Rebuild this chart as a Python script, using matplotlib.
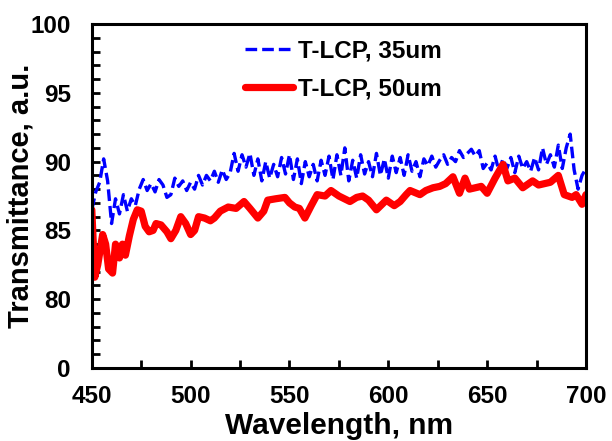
import numpy as np
import matplotlib.pyplot as plt
from matplotlib.ticker import MultipleLocator

# blue dashed series, sampled every 2 nm
wl_35 = np.arange(450, 701, 2)
t_35 = [86.5, 87.8, 88.5, 90.2, 88.6, 85.5, 87.3, 86.2, 87.6, 86.4,
        87.3, 86.8, 88.0, 88.7, 87.9, 88.4, 87.8, 88.7, 88.3, 87.4,
        87.6, 88.8, 88.2, 88.6, 87.9, 88.5, 88.0, 89.0, 88.3, 89.0,
        88.6, 89.3, 88.5, 89.4, 88.7, 89.2, 90.6, 89.3, 90.5, 89.6,
        90.6, 89.0, 90.2, 88.6, 90.0, 88.8, 89.8, 88.9, 90.3, 89.1,
        90.5, 88.7, 90.2, 88.4, 90.0, 88.9, 89.8, 88.6, 90.1, 89.0,
        90.4, 88.7, 90.5, 89.0, 91.0, 88.6, 90.1, 88.8, 90.5, 89.1,
        90.0, 88.9, 90.6, 89.0, 90.2, 88.8, 90.4, 89.2, 90.3, 89.0,
        90.5, 89.3, 90.0, 88.9, 90.2, 89.7, 90.4, 89.6, 90.1, 90.5,
        89.8, 90.3, 90.0, 90.8, 90.3, 90.6, 90.9, 90.4, 90.8, 89.5,
        89.9, 89.4, 90.4, 89.3, 90.2, 89.5, 90.3, 89.2, 90.4, 89.5,
        90.0, 89.3, 90.3, 89.4, 91.0, 89.8, 90.5, 89.6, 91.2, 89.5,
        91.0, 92.0, 89.4, 88.0, 89.0, 89.5]

# red solid series
wl_50 = [450, 451.5, 453, 455.5, 457, 458.5, 460.5, 462, 464, 465.5,
         467, 469, 471, 473, 475, 477, 479, 481, 482.5, 485,
         488, 490, 492.5, 495, 497.5, 500, 502, 504, 507, 510,
         512, 515, 519, 523, 527, 530, 534, 537, 539, 543,
         547.7, 550, 552.7, 555, 557.8, 561, 564, 568, 571, 575,
         580.6, 584, 587, 590, 594, 599, 603, 606, 609, 611,
         616, 619, 622.6, 626, 629, 632.7, 636, 638.8, 641, 644,
         647, 650, 654, 658, 660.5, 664, 668, 673, 676, 679,
         682, 686, 689, 693, 695, 698, 700]
t_50 = [86.5, 81.6, 82.5, 84.7, 84.0, 82.2, 81.9, 84.0, 83.0, 84.0,
        83.2, 84.6, 85.8, 86.5, 86.4, 85.3, 84.9, 85.0, 85.5, 85.4,
        84.9, 84.4, 85.0, 86.0, 85.5, 84.7, 85.0, 86.0, 85.9, 85.7,
        85.9, 86.4, 86.7, 86.6, 87.1, 86.6, 85.9, 86.4, 87.2, 87.3,
        87.4, 87.0, 86.7, 86.6, 85.9, 86.8, 87.6, 87.5, 87.9, 87.5,
        87.1, 87.4, 87.5, 87.2, 86.5, 87.2, 86.8, 87.1, 87.6, 87.9,
        87.6, 87.9, 88.1, 88.2, 88.4, 88.9, 87.7, 88.8, 88.0, 88.1,
        88.2, 87.7, 88.8, 89.8, 88.6, 88.8, 88.1, 88.6, 88.3, 88.4,
        88.5, 89.0, 87.6, 87.4, 87.6, 86.9, 87.6]

y_ticks = [75, 80, 85, 90, 95, 100]
y_ticklabels = ['0', '80', '85', '90', '95', '100']

plt.rcParams['font.family'] = ['Liberation Sans', 'DejaVu Sans']
plt.rcParams['font.weight'] = 'bold'

fig = plt.figure(figsize=(6.12, 4.41), dpi=100)
ax = fig.add_axes([0.150, 0.1655, 0.8075, 0.780])

ax.plot(wl_35, t_35, color='#0000ff', lw=2.4, dashes=(3.5, 1.5),
        label='T-LCP, 35um')
ax.plot(wl_50, t_50, color='#ff0000', lw=5.2, solid_capstyle='round',
        solid_joinstyle='round', label='T-LCP, 50um')

ax.set_xlim(450, 700)
ax.set_ylim(75, 100)
ax.set_xticks(np.arange(450, 701, 50))
ax.xaxis.set_minor_locator(MultipleLocator(25))
ax.set_yticks(y_ticks)
ax.set_yticklabels(y_ticklabels)
ax.yaxis.set_minor_locator(MultipleLocator(1))

ax.tick_params(which='both', direction='in', width=2, length=6,
               labelsize=17.5, top=False, right=False)
ax.tick_params(axis='x', which='both', pad=12)
ax.tick_params(axis='y', which='both', pad=15)
for s in ax.spines.values():
    s.set_linewidth(2.2)

ax.set_xlabel('Wavelength, nm', fontsize=21.5, fontweight='bold')
ax.xaxis.label.set_va('baseline')
ax.xaxis.set_label_coords(0.5, -0.192)
ax.set_ylabel('Transmittance, a.u.', fontsize=21, fontweight='bold')
ax.yaxis.set_label_coords(-0.115, 0.5)

leg = ax.legend(loc='upper left', bbox_to_anchor=(0.265, 1.02), frameon=False,
                fontsize=17.5, handlelength=2.0, handletextpad=0.2,
                labelspacing=0.65)

fig.savefig('out.png', dpi=100)
